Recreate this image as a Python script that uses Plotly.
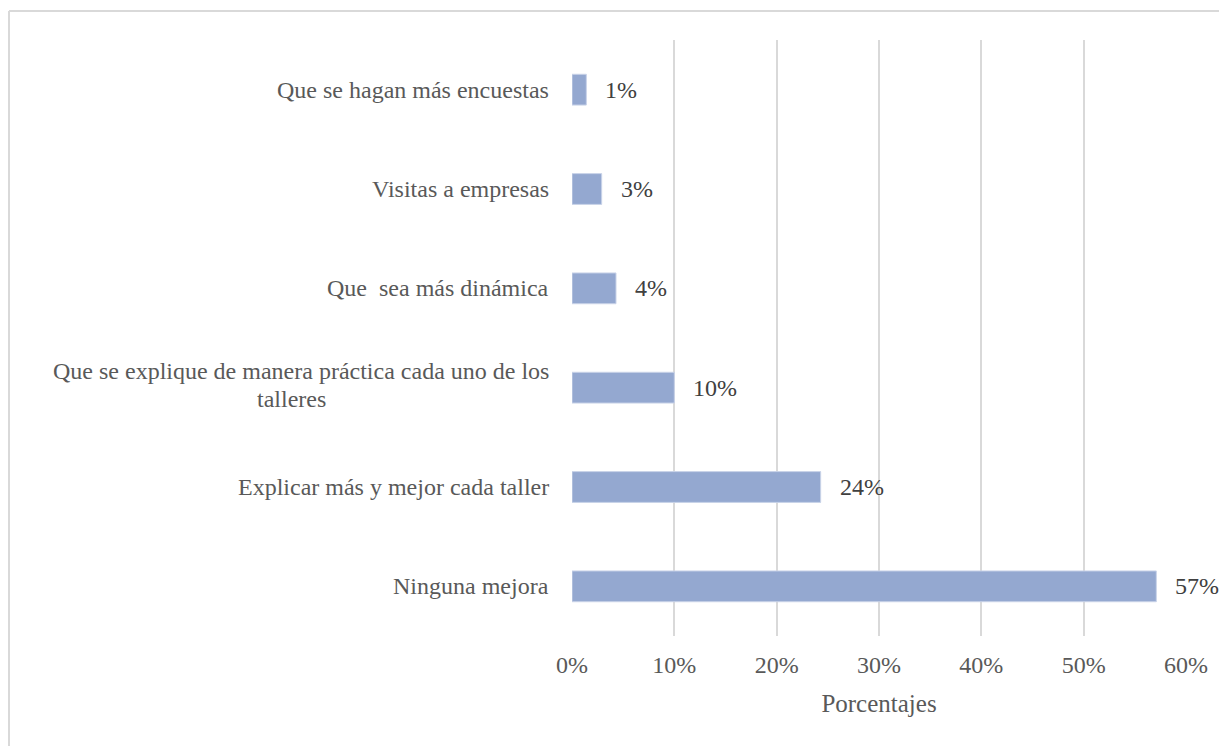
import plotly.graph_objects as go

categories = [
    "Ninguna mejora",
    "Explicar más y mejor cada taller",
    "Que se explique de manera práctica cada uno de los<br>talleres",
    "Que  sea más dinámica",
    "Visitas a empresas",
    "Que se hagan más encuestas",
]
values = [0.571, 0.243, 0.100, 0.043, 0.029, 0.014]
value_labels = ["57%", "24%", "10%", "4%", "3%", "1%"]
tick_vals = [0, 0.1, 0.2, 0.3, 0.4, 0.5, 0.6]
tick_text = ["0%", "10%", "20%", "30%", "40%", "50%", "60%"]

FONT = "Liberation Serif"
AXIS_COLOR = "#595959"
LABEL_COLOR = "#404040"

# page has an 8px body margin
W, H = 1219, 738
L, R, T, B = 564, 41, 32, 110
PW = W - L - R
PH = H - T - B

fig = go.Figure()
fig.add_trace(go.Bar(
    x=values,
    y=list(range(len(categories))),
    orientation="h",
    width=0.31,
    marker=dict(color="#94a8d0", line=dict(color="#c9d3e8", width=1)),
    hoverinfo="skip",
))

cat_font = dict(family=FONT, size=24, color=AXIS_COLOR)
annotations = []
for i, (cat, v, lab) in enumerate(zip(categories, values, value_labels)):
    lines = cat.split("<br>")
    if len(lines) == 1:
        annotations.append(dict(
            x=0, y=i, xref="x", yref="y", text=cat, showarrow=False,
            xanchor="right", yanchor="middle", xshift=-21, font=cat_font,
        ))
    else:
        # first line right-aligned to the axis, second line centred under it
        annotations.append(dict(
            x=0, y=i, xref="x", yref="y", text=lines[0], showarrow=False,
            xanchor="right", yanchor="middle", xshift=-21, yshift=17, font=cat_font,
        ))
        annotations.append(dict(
            x=0, y=i, xref="x", yref="y", text=lines[1], showarrow=False,
            xanchor="center", yanchor="middle", xshift=-281, yshift=-11, font=cat_font,
        ))
    annotations.append(dict(
        x=v, y=i, xref="x", yref="y", text=lab, showarrow=False,
        xanchor="left", yanchor="middle", xshift=17,
        font=dict(family=FONT, size=24, color=LABEL_COLOR),
    ))

fig.update_layout(
    width=W, height=H,
    margin=dict(l=L, r=R, t=T, b=B),
    paper_bgcolor="white", plot_bgcolor="white",
    showlegend=False,
    annotations=annotations,
    font=dict(family=FONT, size=24, color=AXIS_COLOR),
    xaxis=dict(
        range=[0, 0.6], tickvals=tick_vals, ticktext=tick_text,
        showgrid=True, gridcolor="#d9d9d9", gridwidth=2,
        zeroline=False, showline=False, ticks="",
        ticklabelstandoff=12,
        tickfont=dict(family=FONT, size=24, color=AXIS_COLOR),
        title=dict(text="Porcentajes", font=dict(family=FONT, size=25, color=AXIS_COLOR), standoff=17),
        fixedrange=True,
    ),
    yaxis=dict(
        range=[-0.5, len(categories) - 0.5],
        showticklabels=False, showgrid=False, zeroline=False, showline=False, ticks="",
        fixedrange=True,
    ),
    shapes=[
        dict(type="line", xref="paper", yref="paper",
             x0=(9 - 572) / PW, x1=(1240 - 572) / PW,
             y0=(636 - 11) / PH, y1=(636 - 11) / PH,
             line=dict(color="#d9d9d9", width=2)),
        dict(type="line", xref="paper", yref="paper",
             x0=(9 - 572) / PW, x1=(9 - 572) / PW,
             y0=(636 - 760) / PH, y1=(636 - 11) / PH,
             line=dict(color="#d9d9d9", width=2)),
    ],
)

fig.write_html("out.html", config={"displayModeBar": False})
